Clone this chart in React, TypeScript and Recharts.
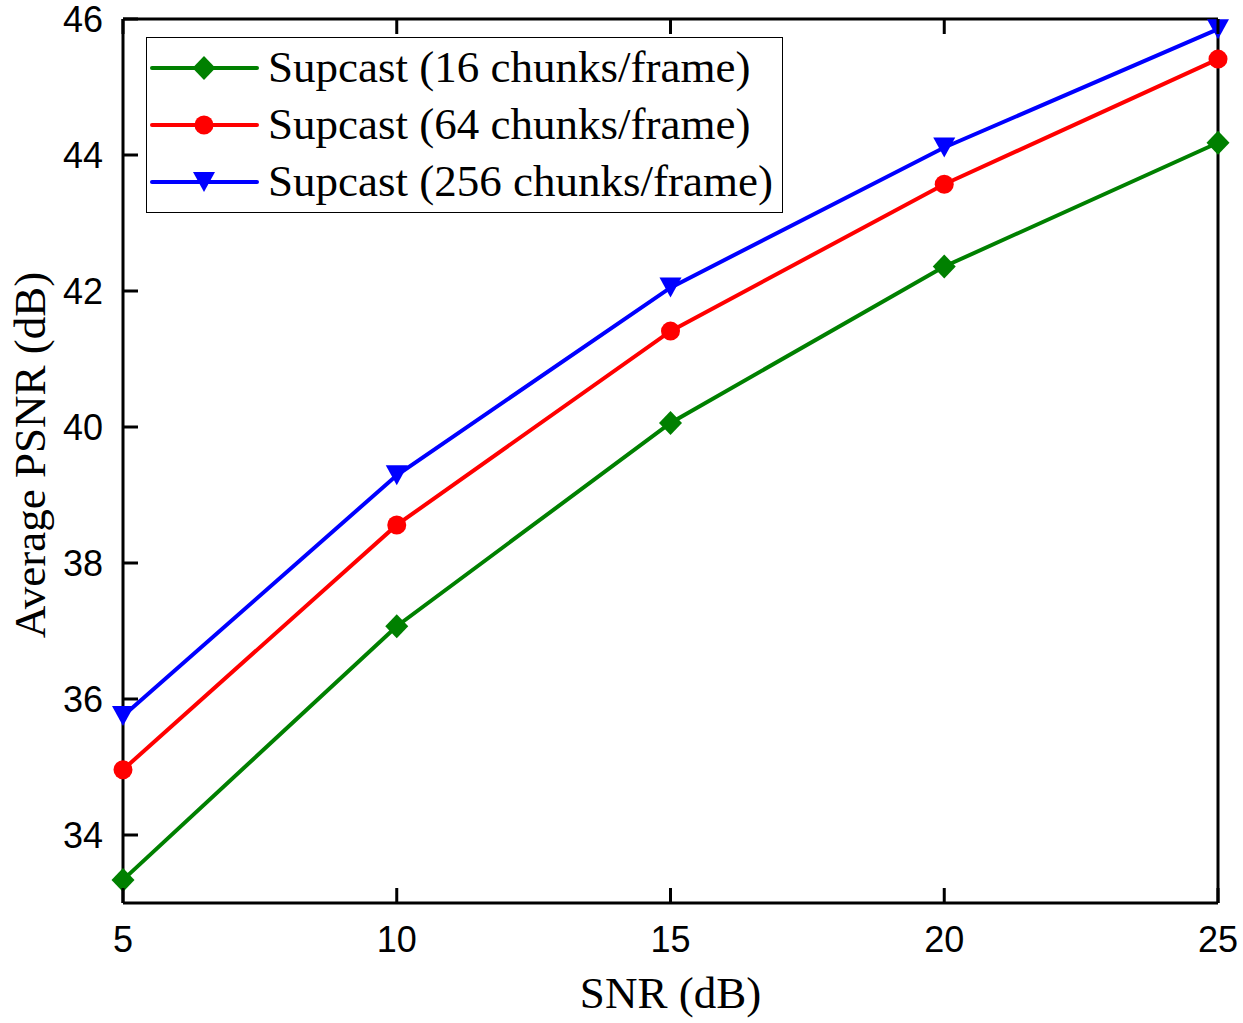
import React from 'react';
import { LineChart, Line, XAxis, YAxis, Legend } from 'recharts';

// SNR values on the x axis (dB)
const snrValues = [5, 10, 15, 20, 25];
// Average PSNR (dB) for each chunk configuration
const psnr16 = [33.34, 37.07, 40.06, 42.36, 44.18];
const psnr64 = [34.96, 38.56, 41.41, 43.57, 45.41];
const psnr256 = [35.75, 39.29, 42.05, 44.11, 45.85];

const xTicks = [5, 10, 15, 20, 25];
const yTicks = [34, 36, 38, 40, 42, 44, 46];

const seriesKeys = ['s16', 's64', 's256'];
const seriesNames = [
  'Supcast (16 chunks/frame)',
  'Supcast (64 chunks/frame)',
  'Supcast (256 chunks/frame)',
];

const data = snrValues.map((snr, i) => ({
  snr,
  s16: psnr16[i],
  s64: psnr64[i],
  s256: psnr256[i],
}));

const SANS = '"Liberation Sans", Arial, Helvetica, sans-serif';
const SERIF = '"Liberation Serif", "Times New Roman", Times, serif';
const TICK_LEN = 15;
const AXIS_W = 3;

type Shape = 'diamond' | 'circle' | 'triangle';

const marker = (shape: Shape, cx: number, cy: number, color: string, key?: string) => {
  if (shape === 'diamond') {
    return (
      <path
        key={key}
        d={`M${cx},${cy - 12} L${cx + 11.5},${cy} L${cx},${cy + 12} L${cx - 11.5},${cy} Z`}
        fill={color}
      />
    );
  }
  if (shape === 'circle') {
    return <circle key={key} cx={cx} cy={cy} r={9.5} fill={color} />;
  }
  return (
    <path
      key={key}
      d={`M${cx - 11},${cy - 10} L${cx + 11},${cy - 10} L${cx},${cy + 10} Z`}
      fill={color}
    />
  );
};

const seriesStyle: Record<string, { color: string; shape: Shape }> = {
  s16: { color: '#008000', shape: 'diamond' },
  s64: { color: '#ff0000', shape: 'circle' },
  s256: { color: '#0000ff', shape: 'triangle' },
};

const makeDot = (key: string) => (props: any) => {
  const { cx, cy, index } = props;
  const st = seriesStyle[key];
  return marker(st.shape, cx, cy, st.color, `${key}-dot-${index}`);
};

const BottomTick = (props: any) => {
  const { x, y, payload } = props;
  return (
    <g>
      <line x1={x} y1={y} x2={x} y2={y - TICK_LEN} stroke="#000" strokeWidth={AXIS_W} />
      <text x={x} y={y + 49} textAnchor="middle" fontFamily={SANS} fontSize={36} fill="#000">
        {payload.value}
      </text>
    </g>
  );
};

const LeftTick = (props: any) => {
  const { x, y, payload } = props;
  return (
    <g>
      <line x1={x} y1={y} x2={x + TICK_LEN} y2={y} stroke="#000" strokeWidth={AXIS_W} />
      <text x={x - 20} y={y + 13} textAnchor="end" fontFamily={SANS} fontSize={36} fill="#000">
        {payload.value}
      </text>
    </g>
  );
};

const TopTick = (props: any) => {
  const { x, y } = props;
  return <line x1={x} y1={y} x2={x} y2={y + TICK_LEN} stroke="#000" strokeWidth={AXIS_W} />;
};

const RightTick = (props: any) => {
  const { x, y } = props;
  return <line x1={x} y1={y} x2={x - TICK_LEN} y2={y} stroke="#000" strokeWidth={AXIS_W} />;
};

const XTitle = (props: any) => {
  const vb = props.viewBox || {};
  return (
    <text
      x={vb.x + vb.width / 2}
      y={vb.y + 105}
      textAnchor="middle"
      fontFamily={SERIF}
      fontSize={45}
      fill="#000"
    >
      SNR (dB)
    </text>
  );
};

const YTitle = (props: any) => {
  const vb = props.viewBox || {};
  const cx = 45;
  const cy = vb.y + vb.height / 2 - 6;
  return (
    <text
      x={cx}
      y={cy}
      transform={`rotate(-90, ${cx}, ${cy})`}
      textAnchor="middle"
      fontFamily={SERIF}
      fontSize={45}
      fill="#000"
    >
      Average PSNR (dB)
    </text>
  );
};

// Legend box drawn in series order
const renderLegend = () => (
  <div
    style={{
      width: 637,
      height: 176,
      boxSizing: 'border-box',
      border: '1.5px solid #000',
      background: '#fff',
      paddingTop: 1,
    }}
  >
    {seriesKeys.map((key, i) => {
      const st = seriesStyle[key];
      return (
        <div
          key={key}
          style={{ display: 'flex', alignItems: 'center', height: 57, whiteSpace: 'nowrap' }}
        >
          <svg width={116} height={40} style={{ flex: 'none' }}>
            <line x1={5} y1={20} x2={110} y2={20} stroke={st.color} strokeWidth={4} strokeLinecap="round" />
            {marker(st.shape, 57, 20, st.color)}
          </svg>
          <span
            style={{
              marginLeft: 5,
              fontFamily: SERIF,
              fontSize: 45,
              lineHeight: '57px',
              color: '#000',
            }}
          >
            {seriesNames[i]}
          </span>
        </div>
      );
    })}
  </div>
);

export default function App() {
  return (
    <div style={{ position: 'absolute', left: 0, top: 0, width: 1243, height: 1023, background: '#fff' }}>
      <LineChart
        width={1243}
        height={1023}
        data={data}
        margin={{ top: 19, right: 25, bottom: 0, left: 0 }}
      >
        <XAxis
          xAxisId="bottom"
          dataKey="snr"
          type="number"
          domain={[5, 25]}
          ticks={xTicks}
          height={120}
          tickLine={false}
          tickSize={0}
          tickMargin={0}
          tick={<BottomTick />}
          axisLine={{ stroke: '#000', strokeWidth: AXIS_W }}
          interval={0}
          label={{ value: 'SNR (dB)', content: XTitle }}
        />
        <XAxis
          xAxisId="top"
          orientation="top"
          dataKey="snr"
          type="number"
          domain={[5, 25]}
          ticks={xTicks}
          mirror
          height={20}
          tickLine={false}
          tickSize={0}
          tickMargin={0}
          tick={<TopTick />}
          axisLine={{ stroke: '#000', strokeWidth: AXIS_W }}
          interval={0}
        />
        <YAxis
          yAxisId="left"
          type="number"
          domain={[33, 46]}
          ticks={yTicks}
          width={123}
          tickLine={false}
          tickSize={0}
          tickMargin={0}
          tick={<LeftTick />}
          axisLine={{ stroke: '#000', strokeWidth: AXIS_W }}
          interval={0}
          label={{ value: 'Average PSNR (dB)', content: YTitle }}
        />
        <YAxis
          yAxisId="right"
          orientation="right"
          type="number"
          domain={[33, 46]}
          ticks={yTicks}
          mirror
          width={20}
          tickLine={false}
          tickSize={0}
          tickMargin={0}
          tick={<RightTick />}
          axisLine={{ stroke: '#000', strokeWidth: AXIS_W }}
          interval={0}
        />
        <Legend
          layout="vertical"
          align="center"
          verticalAlign="middle"
          content={renderLegend}
          wrapperStyle={{ left: 146, top: 37, width: 637, height: 176 }}
        />
        <Line
          xAxisId="bottom"
          yAxisId="left"
          dataKey="s16"
          name={seriesNames[0]}
          stroke={seriesStyle.s16.color}
          strokeWidth={4}
          dot={makeDot('s16')}
          activeDot={false}
          isAnimationActive={false}
        />
        <Line
          xAxisId="bottom"
          yAxisId="left"
          dataKey="s64"
          name={seriesNames[1]}
          stroke={seriesStyle.s64.color}
          strokeWidth={4}
          dot={makeDot('s64')}
          activeDot={false}
          isAnimationActive={false}
        />
        <Line
          xAxisId="bottom"
          yAxisId="left"
          dataKey="s256"
          name={seriesNames[2]}
          stroke={seriesStyle.s256.color}
          strokeWidth={4}
          dot={makeDot('s256')}
          activeDot={false}
          isAnimationActive={false}
        />
      </LineChart>
    </div>
  );
}
